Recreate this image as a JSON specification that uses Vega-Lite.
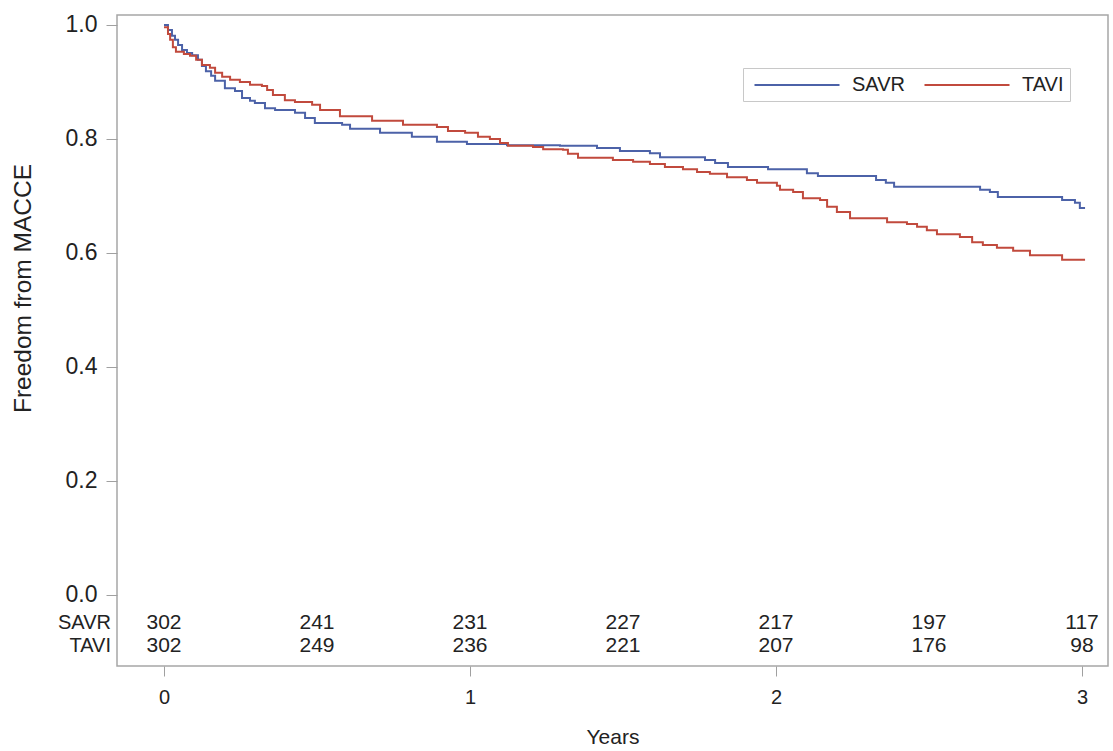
{
  "$schema": "https://vega.github.io/schema/vega-lite/v6.json",
  "width": 991,
  "height": 651,
  "autosize": {"type": "none"},
  "padding": {"left": 117, "top": 15, "right": 5, "bottom": 85},
  "background": "white",
  "config": {
    "font": "Liberation Sans",
    "view": {"stroke": "#a6a6a6", "strokeWidth": 1.5}
  },
  "datasets": {
    "km": [
      {"arm": "SAVR", "t": 0, "s": 1.0}, {"arm": "SAVR", "t": 0.013, "s": 0.991}, {"arm": "SAVR", "t": 0.026, "s": 0.981}, {"arm": "SAVR", "t": 0.036, "s": 0.974}, {"arm": "SAVR", "t": 0.046, "s": 0.965}, {"arm": "SAVR", "t": 0.059, "s": 0.956}, {"arm": "SAVR", "t": 0.075, "s": 0.951}, {"arm": "SAVR", "t": 0.092, "s": 0.947}, {"arm": "SAVR", "t": 0.111, "s": 0.939}, {"arm": "SAVR", "t": 0.124, "s": 0.928}, {"arm": "SAVR", "t": 0.137, "s": 0.919}, {"arm": "SAVR", "t": 0.154, "s": 0.911}, {"arm": "SAVR", "t": 0.167, "s": 0.902}, {"arm": "SAVR", "t": 0.199, "s": 0.889}, {"arm": "SAVR", "t": 0.232, "s": 0.884}, {"arm": "SAVR", "t": 0.255, "s": 0.872}, {"arm": "SAVR", "t": 0.281, "s": 0.867}, {"arm": "SAVR", "t": 0.297, "s": 0.863}, {"arm": "SAVR", "t": 0.33, "s": 0.854}, {"arm": "SAVR", "t": 0.363, "s": 0.851}, {"arm": "SAVR", "t": 0.428, "s": 0.846}, {"arm": "SAVR", "t": 0.461, "s": 0.837}, {"arm": "SAVR", "t": 0.493, "s": 0.828}, {"arm": "SAVR", "t": 0.582, "s": 0.825}, {"arm": "SAVR", "t": 0.608, "s": 0.818}, {"arm": "SAVR", "t": 0.706, "s": 0.811}, {"arm": "SAVR", "t": 0.81, "s": 0.804}, {"arm": "SAVR", "t": 0.892, "s": 0.795}, {"arm": "SAVR", "t": 0.99, "s": 0.791}, {"arm": "SAVR", "t": 1.121, "s": 0.789}, {"arm": "SAVR", "t": 1.294, "s": 0.788}, {"arm": "SAVR", "t": 1.415, "s": 0.784}, {"arm": "SAVR", "t": 1.49, "s": 0.779}, {"arm": "SAVR", "t": 1.588, "s": 0.775}, {"arm": "SAVR", "t": 1.621, "s": 0.768}, {"arm": "SAVR", "t": 1.768, "s": 0.763}, {"arm": "SAVR", "t": 1.801, "s": 0.758}, {"arm": "SAVR", "t": 1.843, "s": 0.751}, {"arm": "SAVR", "t": 1.974, "s": 0.747}, {"arm": "SAVR", "t": 2.101, "s": 0.74}, {"arm": "SAVR", "t": 2.137, "s": 0.735}, {"arm": "SAVR", "t": 2.327, "s": 0.728}, {"arm": "SAVR", "t": 2.359, "s": 0.723}, {"arm": "SAVR", "t": 2.386, "s": 0.716}, {"arm": "SAVR", "t": 2.667, "s": 0.711}, {"arm": "SAVR", "t": 2.699, "s": 0.707}, {"arm": "SAVR", "t": 2.725, "s": 0.698}, {"arm": "SAVR", "t": 2.935, "s": 0.693}, {"arm": "SAVR", "t": 2.977, "s": 0.688}, {"arm": "SAVR", "t": 2.993, "s": 0.679}, {"arm": "SAVR", "t": 3.01, "s": 0.679},
      {"arm": "TAVI", "t": 0, "s": 0.996}, {"arm": "TAVI", "t": 0.013, "s": 0.984}, {"arm": "TAVI", "t": 0.02, "s": 0.974}, {"arm": "TAVI", "t": 0.029, "s": 0.961}, {"arm": "TAVI", "t": 0.039, "s": 0.953}, {"arm": "TAVI", "t": 0.065, "s": 0.949}, {"arm": "TAVI", "t": 0.085, "s": 0.946}, {"arm": "TAVI", "t": 0.105, "s": 0.939}, {"arm": "TAVI", "t": 0.124, "s": 0.93}, {"arm": "TAVI", "t": 0.15, "s": 0.925}, {"arm": "TAVI", "t": 0.167, "s": 0.916}, {"arm": "TAVI", "t": 0.19, "s": 0.909}, {"arm": "TAVI", "t": 0.216, "s": 0.904}, {"arm": "TAVI", "t": 0.248, "s": 0.9}, {"arm": "TAVI", "t": 0.281, "s": 0.895}, {"arm": "TAVI", "t": 0.32, "s": 0.893}, {"arm": "TAVI", "t": 0.337, "s": 0.886}, {"arm": "TAVI", "t": 0.356, "s": 0.877}, {"arm": "TAVI", "t": 0.395, "s": 0.868}, {"arm": "TAVI", "t": 0.428, "s": 0.865}, {"arm": "TAVI", "t": 0.484, "s": 0.86}, {"arm": "TAVI", "t": 0.51, "s": 0.851}, {"arm": "TAVI", "t": 0.575, "s": 0.84}, {"arm": "TAVI", "t": 0.68, "s": 0.832}, {"arm": "TAVI", "t": 0.781, "s": 0.825}, {"arm": "TAVI", "t": 0.892, "s": 0.821}, {"arm": "TAVI", "t": 0.928, "s": 0.814}, {"arm": "TAVI", "t": 0.984, "s": 0.811}, {"arm": "TAVI", "t": 1.026, "s": 0.804}, {"arm": "TAVI", "t": 1.065, "s": 0.8}, {"arm": "TAVI", "t": 1.098, "s": 0.793}, {"arm": "TAVI", "t": 1.124, "s": 0.788}, {"arm": "TAVI", "t": 1.206, "s": 0.786}, {"arm": "TAVI", "t": 1.239, "s": 0.782}, {"arm": "TAVI", "t": 1.304, "s": 0.781}, {"arm": "TAVI", "t": 1.32, "s": 0.774}, {"arm": "TAVI", "t": 1.353, "s": 0.767}, {"arm": "TAVI", "t": 1.467, "s": 0.763}, {"arm": "TAVI", "t": 1.533, "s": 0.76}, {"arm": "TAVI", "t": 1.588, "s": 0.756}, {"arm": "TAVI", "t": 1.637, "s": 0.751}, {"arm": "TAVI", "t": 1.696, "s": 0.747}, {"arm": "TAVI", "t": 1.742, "s": 0.742}, {"arm": "TAVI", "t": 1.784, "s": 0.739}, {"arm": "TAVI", "t": 1.84, "s": 0.733}, {"arm": "TAVI", "t": 1.905, "s": 0.728}, {"arm": "TAVI", "t": 1.938, "s": 0.723}, {"arm": "TAVI", "t": 2.003, "s": 0.718}, {"arm": "TAVI", "t": 2.013, "s": 0.711}, {"arm": "TAVI", "t": 2.056, "s": 0.707}, {"arm": "TAVI", "t": 2.088, "s": 0.696}, {"arm": "TAVI", "t": 2.144, "s": 0.693}, {"arm": "TAVI", "t": 2.167, "s": 0.681}, {"arm": "TAVI", "t": 2.199, "s": 0.672}, {"arm": "TAVI", "t": 2.242, "s": 0.661}, {"arm": "TAVI", "t": 2.363, "s": 0.654}, {"arm": "TAVI", "t": 2.428, "s": 0.651}, {"arm": "TAVI", "t": 2.461, "s": 0.646}, {"arm": "TAVI", "t": 2.493, "s": 0.64}, {"arm": "TAVI", "t": 2.526, "s": 0.633}, {"arm": "TAVI", "t": 2.601, "s": 0.628}, {"arm": "TAVI", "t": 2.641, "s": 0.619}, {"arm": "TAVI", "t": 2.676, "s": 0.614}, {"arm": "TAVI", "t": 2.722, "s": 0.609}, {"arm": "TAVI", "t": 2.775, "s": 0.604}, {"arm": "TAVI", "t": 2.83, "s": 0.596}, {"arm": "TAVI", "t": 2.935, "s": 0.588}, {"arm": "TAVI", "t": 3.01, "s": 0.588}
    ],
    "risk": [
      {"arm": "SAVR", "t": 0, "n": 302}, {"arm": "SAVR", "t": 0.5, "n": 241}, {"arm": "SAVR", "t": 1, "n": 231}, {"arm": "SAVR", "t": 1.5, "n": 227}, {"arm": "SAVR", "t": 2, "n": 217}, {"arm": "SAVR", "t": 2.5, "n": 197}, {"arm": "SAVR", "t": 3, "n": 117},
      {"arm": "TAVI", "t": 0, "n": 302}, {"arm": "TAVI", "t": 0.5, "n": 249}, {"arm": "TAVI", "t": 1, "n": 236}, {"arm": "TAVI", "t": 1.5, "n": 221}, {"arm": "TAVI", "t": 2, "n": 207}, {"arm": "TAVI", "t": 2.5, "n": 176}, {"arm": "TAVI", "t": 3, "n": 98}
    ],
    "arms": [{"arm": "SAVR"}, {"arm": "TAVI"}]
  },
  "layer": [
    {
      "data": {"name": "km"},
      "mark": {"type": "line", "interpolate": "step-after", "strokeWidth": 2},
      "encoding": {
        "x": {
          "field": "t", "type": "quantitative",
          "scale": {"domain": [-0.1536, 3.085], "nice": false, "zero": false},
          "axis": {
            "values": [0, 1, 2, 3], "format": "d", "grid": false, "domain": false,
            "tickColor": "#a0a0a0", "tickSize": 10, "labelFontSize": 20, "labelColor": "#222",
            "labelPadding": 11, "title": "Years", "titleFontSize": 21, "titleFontWeight": "normal",
            "titleColor": "#222", "titleBaseline": "top", "titleY": 60
          }
        },
        "y": {
          "field": "s", "type": "quantitative",
          "scale": {"domain": [-0.1246, 1.0175], "nice": false, "zero": false},
          "axis": {
            "values": [0, 0.2, 0.4, 0.6, 0.8, 1.0], "format": ".1f", "grid": false, "domain": false,
            "tickColor": "#a0a0a0", "tickSize": 11, "labelFontSize": 23, "labelColor": "#222",
            "labelPadding": 9, "title": "Freedom from MACCE", "titleFontSize": 24.5,
            "titleFontWeight": "normal", "titleColor": "#222", "titleX": -82, "titleY": 273
          }
        },
        "color": {
          "field": "arm", "type": "nominal",
          "scale": {"domain": ["SAVR", "TAVI"], "range": ["#4c62a8", "#c14a3d"]},
          "legend": {
            "title": null, "orient": "none", "legendX": 626, "legendY": 53, "direction": "horizontal",
            "strokeColor": "#c8c8c8", "fillColor": "white", "padding": 6,
            "symbolType": "M-4.25,0H4.25", "symbolSize": 400, "symbolStrokeWidth": 2,
            "symbolOffset": 37, "labelOffset": 44,
            "labelFontSize": 20, "labelColor": "#222", "columnPadding": 14
          }
        }
      }
    },
    {
      "data": {"name": "risk"},
      "transform": [{"filter": "datum.arm === 'SAVR'"}],
      "mark": {"type": "text", "fontSize": 21, "color": "#222", "baseline": "middle"},
      "encoding": {
        "x": {"field": "t", "type": "quantitative"},
        "y": {"datum": -0.049},
        "text": {"field": "n"}
      }
    },
    {
      "data": {"name": "risk"},
      "transform": [{"filter": "datum.arm === 'TAVI'"}],
      "mark": {"type": "text", "fontSize": 21, "color": "#222", "baseline": "middle"},
      "encoding": {
        "x": {"field": "t", "type": "quantitative"},
        "y": {"datum": -0.0895},
        "text": {"field": "n"}
      }
    },
    {
      "data": {"name": "arms"},
      "transform": [{"filter": "datum.arm === 'SAVR'"}],
      "mark": {"type": "text", "fontSize": 20, "color": "#222", "baseline": "middle", "align": "right", "dx": -6},
      "encoding": {
        "x": {"datum": -0.1536},
        "y": {"datum": -0.049},
        "text": {"field": "arm"}
      }
    },
    {
      "data": {"name": "arms"},
      "transform": [{"filter": "datum.arm === 'TAVI'"}],
      "mark": {"type": "text", "fontSize": 20, "color": "#222", "baseline": "middle", "align": "right", "dx": -6},
      "encoding": {
        "x": {"datum": -0.1536},
        "y": {"datum": -0.0895},
        "text": {"field": "arm"}
      }
    }
  ]
}
